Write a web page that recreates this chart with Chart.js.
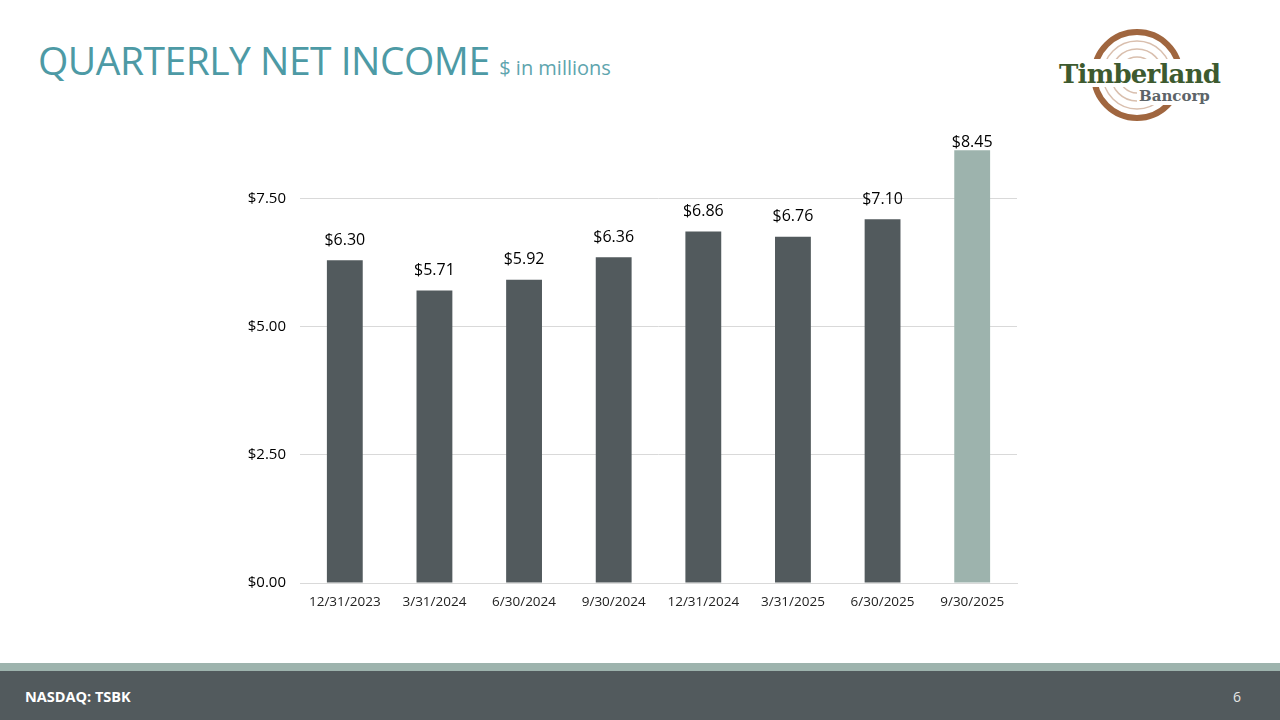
<!DOCTYPE html>
<html>
<head>
<meta charset="utf-8">
<script src="https://cdn.jsdelivr.net/npm/chart.js@4.4.1/dist/chart.umd.min.js"></script>
<style>
  body { margin: 0; width: 1280px; height: 720px; position: relative; background: #fff; font-family: "Open Sans", sans-serif; overflow: hidden; }
  #title { position: absolute; left: 38px; top: 33px; color: #4d9aa5; font-size: 39px; white-space: nowrap; letter-spacing: -0.5px; }
  #title span { font-size: 20px; color: #5ea5ae; letter-spacing: 0; }
  #logo { position: absolute; left: 1055px; top: 25px; }
  #chartBox { position: absolute; left: 230px; top: 99px; width: 800px; height: 514px; }
  #band { position: absolute; left: 0; top: 663px; width: 1280px; height: 8px; background: #9db3ad; }
  #footer { position: absolute; left: 0; top: 671px; width: 1280px; height: 49px; background: #525a5d; color: #fff; }
  #footer .tick { position: absolute; left: 25px; top: 16px; font-size: 14.5px; font-weight: bold; }
  #footer .page { position: absolute; left: 1233px; top: 16px; font-size: 14px; color: #e6e6e6; }
</style>
</head>
<body>
<div id="title">QUARTERLY NET INCOME <span>$ in millions</span></div>
<svg id="logo" width="175" height="100" viewBox="0 0 175 100">
  <circle cx="82" cy="50" r="43" fill="none" stroke="#a0663f" stroke-width="6"/>
  <circle cx="82" cy="50" r="34" fill="none" stroke="#d9bfae" stroke-width="1.5"/>
  <circle cx="82" cy="50" r="26" fill="none" stroke="#d9bfae" stroke-width="1.5"/>
  <circle cx="82" cy="50" r="18" fill="none" stroke="#d9bfae" stroke-width="1.5"/>
  <rect x="2" y="34" width="168" height="28" fill="#fff"/>
  <rect x="82" y="60" width="88" height="20" fill="#fff"/>
  <text x="4" y="58" font-family="DejaVu Serif, serif" font-weight="bold" font-size="26" fill="#3d5a2f" textLength="162">Timberland</text>
  <text x="84" y="76" font-family="DejaVu Serif, serif" font-weight="bold" font-size="15" fill="#5d6468">Bancorp</text>
</svg>
<div id="chartBox"><canvas id="bar-chartIncome"></canvas></div>
<div id="band"></div>
<div id="footer"><div class="tick">NASDAQ: TSBK</div><div class="page">6</div></div>
<script>
const quarters = ["12/31/2023", "3/31/2024", "6/30/2024", "9/30/2024", "12/31/2024", "3/31/2025", "6/30/2025", "9/30/2025"];
const netIncome = [6.30, 5.71, 5.92, 6.36, 6.86, 6.76, 7.10, 8.45];
const yTicks = [0, 2.5, 5, 7.5];

// Colores: todas las barras oscuras salvo el último trimestre
const barColors = quarters.map((q, i) => i === quarters.length - 1 ? "#9db3ad" : "#525a5d");

// Etiquetas de valor encima de cada barra
const valueLabels = {
    id: "valueLabels",
    afterDatasetsDraw(chart) {
        const ctx = chart.ctx;
        const meta = chart.getDatasetMeta(0);
        ctx.save();
        ctx.font = "16px 'Open Sans'";
        ctx.fillStyle = "#000";
        ctx.textAlign = "center";
        ctx.textBaseline = "bottom";
        meta.data.forEach((bar, i) => {
            ctx.fillText("$" + netIncome[i].toFixed(2), bar.x, bar.y - (i === meta.data.length - 1 ? 0 : 12));
        });
        ctx.restore();
    }
};

new Chart(document.getElementById("bar-chartIncome"), {
    type: "bar",
    data: {
        labels: quarters,
        datasets: [{
            label: "Net income",
            backgroundColor: barColors,
            data: netIncome,
            barPercentage: 0.4,
            categoryPercentage: 1
        }]
    },
    options: {
        responsive: true,
        maintainAspectRatio: false,
        animation: false,
        layout: { padding: { top: 1, right: 13, bottom: 0, left: 0 } },
        plugins: {
            legend: { display: false },
            tooltip: { enabled: false }
        },
        scales: {
            x: {
                grid: { display: false, drawTicks: false },
                border: { color: "#d9d9d9" },
                ticks: { color: "#222", font: { family: "Open Sans", size: 13.5 }, padding: 11, maxRotation: 0 },
                afterFit: scale => { scale.height = 30; }
            },
            y: {
                min: 0,
                max: 9,
                afterBuildTicks: scale => { scale.ticks = yTicks.map(v => ({ value: v })); },
                grid: { color: "#d9d9d9", drawTicks: false },
                border: { display: false },
                ticks: {
                    color: "#000",
                    font: { family: "Open Sans", size: 15 },
                    padding: 14,
                    callback: v => "$" + Number(v).toFixed(2)
                },
                afterFit: scale => { scale.width = 70; }
            }
        }
    },
    plugins: [valueLabels]
});
</script>
</body>
</html>
